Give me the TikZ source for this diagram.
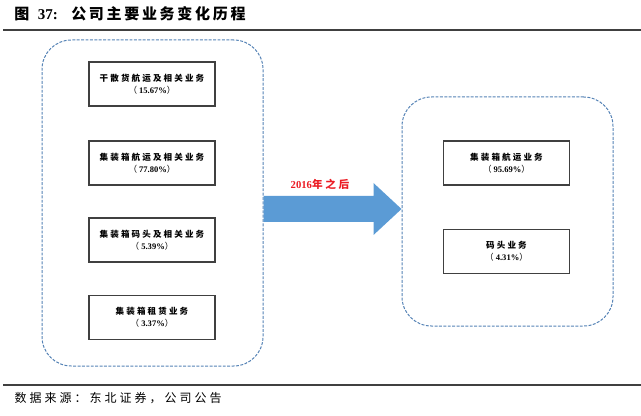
\documentclass[tikz,border=0pt]{standalone}
\usepackage{fontspec}
\setmainfont{Liberation Serif}
\newfontfamily\zh[LetterSpace=25]{Noto Sans CJK SC}
\newfontfamily\zhtitle[LetterSpace=18]{Noto Sans CJK SC}
\usepackage{xcolor}
\definecolor{lcblue}{RGB}{84, 130, 181}
\definecolor{lcarrow}{RGB}{91, 155, 213}
\definecolor{lcred}{RGB}{235, 28, 36}
\definecolor{lcgray}{RGB}{64, 64, 64}
\usetikzlibrary{calc}

\begin{document}
\begin{tikzpicture}[x=0.75pt, y=-0.75pt,
    groupbox/.style={draw=lcblue, line width=0.75pt, dash pattern=on 2.2pt off 1.1pt,
        rounded corners=22pt},
    bizbox/.style={draw=lcgray, line width=0.8pt, minimum width=94.5pt, minimum height=33pt,
        inner sep=0pt, align=center, font=\fontsize{6.4}{9}\selectfont}]

\useasboundingbox (0,0) rectangle (641,416);

% === Título y reglas ===
\node[anchor=west, inner sep=0pt, font=\fontsize{11.25}{13}\selectfont\bfseries] (title) at (14,14)
    {{\zhtitle 图}\hspace{6.5pt}37:\hspace{10pt}{\zhtitle 公司主要业务变化历程}};
\draw[lcgray, line width=1.1pt] (3,30) -- (641,30);
\draw[lcgray, line width=1.1pt] (3,385) -- (641,385);
\node[anchor=west, font=\fontsize{9}{11}\selectfont] (source) at (10,398)
    {\zh 数据来源：东北证券，公司公告};

% === Antes de 2016 ===
\node[groupbox, minimum width=165.75pt, minimum height=244.5pt] (before) at (152.5,203) {};
\node[bizbox] (drybulk) at (152,84)
    {{\zh\bfseries 干散货航运及相关业务}\\{\zh （}\textbf{15.67\%}{\zh ）}};
\node[bizbox, line width=1.1pt] (cship) at (152,163)
    {{\zh\bfseries 集装箱航运及相关业务}\\{\zh （}\textbf{77.80\%}{\zh ）}};
\node[bizbox] (cport) at (152,240)
    {{\zh\bfseries 集装箱码头及相关业务}\\{\zh （}\textbf{5.39\%}{\zh ）}};
\node[bizbox] (clease) at (152,317.5)
    {{\zh\bfseries 集装箱租赁业务}\\{\zh （}\textbf{3.37\%}{\zh ）}};

% === Después de 2016 ===
\node[groupbox, minimum width=158.25pt, minimum height=171.75pt] (after) at (507.5,211.5) {};
\node[bizbox, line width=1.1pt] (shipping) at (506.5,163)
    {{\zh\bfseries 集装箱航运业务}\\{\zh （}\textbf{95.69\%}{\zh ）}};
\node[bizbox] (port) at (506.5,251.5)
    {{\zh\bfseries 码头业务}\\{\zh （}\textbf{4.31\%}{\zh ）}};

% === Flecha de transición ===
\coordinate (tail) at (before.east |- 0,209);
\coordinate (tip) at (after.west |- 0,209);
\fill[lcarrow] ($(tail)+(0,-13)$) -- ($(tip)+(-28,-13)$) -- ($(tip)+(-28,-26)$) -- (tip)
    -- ($(tip)+(-28,26)$) -- ($(tip)+(-28,13)$) -- ($(tail)+(0,13)$) -- cycle;
\node[text=lcred, font=\fontsize{8}{10}\selectfont] (yearlabel) at (320,184)
    {\textbf{2016}{\zh\bfseries 年之后}};

\end{tikzpicture}
\end{document}
